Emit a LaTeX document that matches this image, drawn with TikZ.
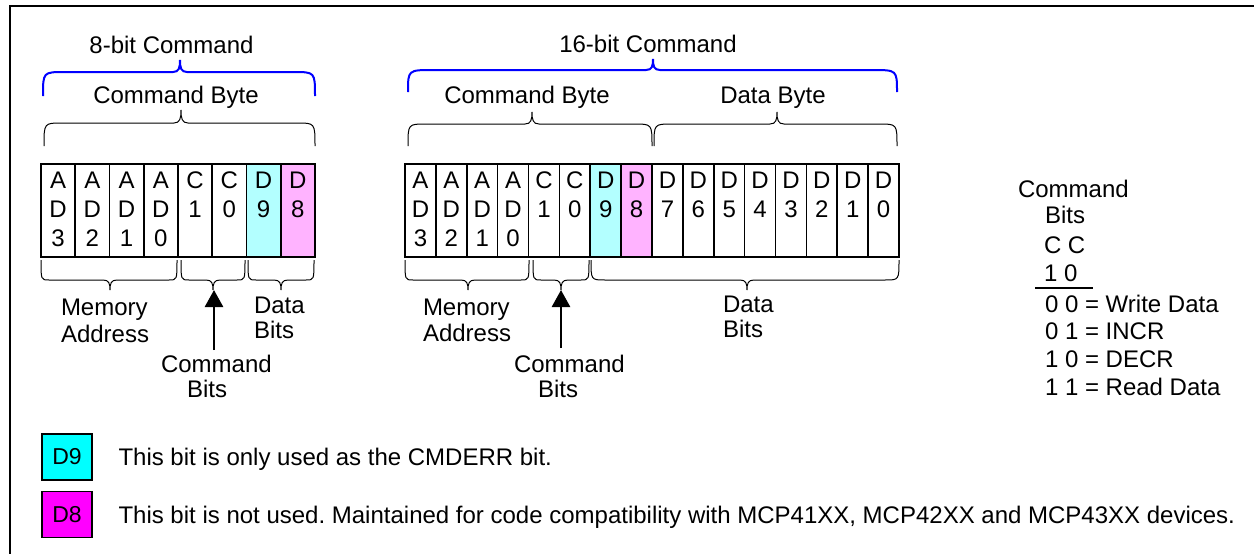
\documentclass[tikz,border=0pt]{standalone}
\usepackage{fontspec}
\setmainfont{Liberation Sans}
\usetikzlibrary{arrows.meta}
\frenchspacing
\definecolor{lcyan}{RGB}{179,255,255}
\definecolor{lpink}{RGB}{255,179,255}
\definecolor{bblue}{RGB}{0,0,255}
\definecolor{boxcyan}{RGB}{0,255,255}
\definecolor{boxmag}{RGB}{255,0,255}
\newcommand{\hbrace}[8]{%
  \draw[#1] (#2,#5) .. controls (#2,{#5-(#6)}) .. ({#2+#8},{#5-(#6)})
    -- ({#4-7},{#5-(#6)}) .. controls ({#4-1},{#5-(#6)}) and (#4,{#5-(#6)-0.35*(#7)}) .. (#4,{#5-(#6)-(#7)})
    .. controls (#4,{#5-(#6)-0.35*(#7)}) and ({#4+1},{#5-(#6)}) .. ({#4+7},{#5-(#6)})
    -- ({#3-#8},{#5-(#6)}) .. controls (#3,{#5-(#6)}) .. (#3,#5);}
\begin{document}
\begin{tikzpicture}[x=1pt,y=-1pt,
  lbl/.style={font=\fontsize{24}{29}\selectfont, inner sep=0pt, outer sep=0pt},
  leg/.style={font=\fontsize{24}{29}\selectfont, inner sep=0pt, outer sep=0pt},
  cell/.style={draw=black, line width=1.6pt, inner sep=0pt, outer sep=0pt, minimum height=93pt},
  bluebrace/.style={draw=bblue, line width=2pt},
  blackbrace/.style={draw=black, line width=1pt},
  arrowst/.style={line width=2.7pt, -{Triangle[width=18pt,length=17pt]}},
  legbox/.style={draw=black, line width=1.6pt, inner sep=0pt, minimum width=50pt, minimum height=46pt, font=\fontsize{23}{27}\selectfont}]
\useasboundingbox (0,0) rectangle (1254,554);
\draw[line width=2pt] (10,554) -- (10,6) -- (1254,6);

% ---------- 8-bit command ----------
\node[lbl, anchor=base] (t8) at (171.5,53) {8-bit Command};
\hbrace{bluebrace}{43}{315}{180}{96}{24}{12}{22}
\node[lbl, anchor=base] (cb8top) at (176,103) {Command Byte};
\hbrace{blackbrace}{44}{315}{181}{146}{23}{13}{18}

\foreach \i/\ta/\tb/\tc/\f in {0/A/D/3/white,1/A/D/2/white,2/A/D/1/white,3/A/D/0/white,4/C/1//white,5/C/0//white,6/D/9//lcyan,7/D/8//lpink}{
  \node[cell, fill=\f, minimum width=34.25pt] (e\i) at ({41+34.25*(\i+0.5)},210.5) {};
  \node[lbl, anchor=base] (e\i-a) at ({41+34.25*(\i+0.5)},188) {\ta};
  \node[lbl, anchor=base] (e\i-b) at ({41+34.25*(\i+0.5)},217) {\tb};
  \node[lbl, anchor=base] (e\i-c) at ({41+34.25*(\i+0.5)},246) {\tc};
}

\hbrace{blackbrace}{41}{177}{110}{260}{-20}{-10}{8}
\hbrace{blackbrace}{181}{245}{213}{260}{-20}{-10}{8}
\hbrace{blackbrace}{248}{314}{281}{260}{-20}{-10}{8}

\node[lbl, anchor=base west] (m8a) at (61,315) {Memory};
\node[lbl, anchor=base west] (m8b) at (61,342) {Address};
\node[lbl, anchor=base west] (d8a) at (254,313) {Data};
\node[lbl, anchor=base west] (d8b) at (254,338) {Bits};
\node[lbl, anchor=base west] (c8a) at (161,372) {Command};
\node[lbl, anchor=base west] (c8b) at (187,397) {Bits};
\coordinate (ar8s) at (214,350);
\coordinate (ar8e) at (214,290);
\draw[arrowst] (ar8s) -- (ar8e);

% ---------- 16-bit command ----------
\node[lbl, anchor=base] (t16) at (648,52) {16-bit Command};
\hbrace{bluebrace}{408}{897}{653}{92}{22}{11}{25}
\node[lbl, anchor=base] (cb16top) at (527,103) {Command Byte};
\node[lbl, anchor=base] (db16top) at (773,103) {Data Byte};
\hbrace{blackbrace}{408}{652}{532}{146}{22}{12}{18}
\hbrace{blackbrace}{654}{897}{777}{146}{22}{12}{18}

\foreach \i/\ta/\tb/\tc/\f in {0/A/D/3/white,1/A/D/2/white,2/A/D/1/white,3/A/D/0/white,4/C/1//white,5/C/0//white,6/D/9//lcyan,7/D/8//lpink,8/D/7//white,9/D/6//white,10/D/5//white,11/D/4//white,12/D/3//white,13/D/2//white,14/D/1//white,15/D/0//white}{
  \node[cell, fill=\f, minimum width=30.875pt] (s\i) at ({405+30.875*(\i+0.5)},210.5) {};
  \node[lbl, anchor=base] (s\i-a) at ({405+30.875*(\i+0.5)},188) {\ta};
  \node[lbl, anchor=base] (s\i-b) at ({405+30.875*(\i+0.5)},217) {\tb};
  \node[lbl, anchor=base] (s\i-c) at ({405+30.875*(\i+0.5)},246) {\tc};
}

\hbrace{blackbrace}{405}{529}{468}{260}{-20}{-10}{8}
\hbrace{blackbrace}{533}{589}{561}{260}{-20}{-10}{8}
\hbrace{blackbrace}{591}{899}{747}{260}{-20}{-10}{14}

\node[lbl, anchor=base west] (m16a) at (423,315) {Memory};
\node[lbl, anchor=base west] (m16b) at (423,341) {Address};
\node[lbl, anchor=base west] (d16a) at (723,312) {Data};
\node[lbl, anchor=base west] (d16b) at (723,337) {Bits};
\node[lbl, anchor=base west] (c16a) at (514,372) {Command};
\node[lbl, anchor=base west] (c16b) at (538,397) {Bits};
\coordinate (ar16s) at (561,348);
\coordinate (ar16e) at (561,290);
\draw[arrowst] (ar16s) -- (ar16e);

% ---------- command bits table ----------
\node[lbl, anchor=base west] (k1) at (1018,197) {Command};
\node[lbl, anchor=base west] (k2) at (1045,223) {Bits};
\node[lbl, anchor=base west] (k3) at (1044,253) {C C};
\node[lbl, anchor=base west] (k4) at (1044,281) {1 0};
\coordinate (kl1) at (1035,288);
\coordinate (kl2) at (1093,288);
\draw[line width=1.6pt] (kl1) -- (kl2);
\node[lbl, anchor=base west] (k5) at (1045,312) {0 0 = Write Data};
\node[lbl, anchor=base west] (k6) at (1045,339) {0 1 = INCR};
\node[lbl, anchor=base west] (k7) at (1045,367) {1 0 = DECR};
\node[lbl, anchor=base west] (k8) at (1045,395) {1 1 = Read Data};

% ---------- legend ----------
\node[legbox, fill=boxcyan] (b9) at (67,457) {D9};
\node[legbox, fill=boxmag] (b8) at (67,514.5) {D8};
\node[leg, anchor=base west] (l9) at (118.5,465) {This bit is only used as the CMDERR bit.};
\node[leg, anchor=base west] (l8) at (118.5,523) {This bit is not used. Maintained for code compatibility with MCP41XX, MCP42XX and MCP43XX devices.};
\end{tikzpicture}
\end{document}
